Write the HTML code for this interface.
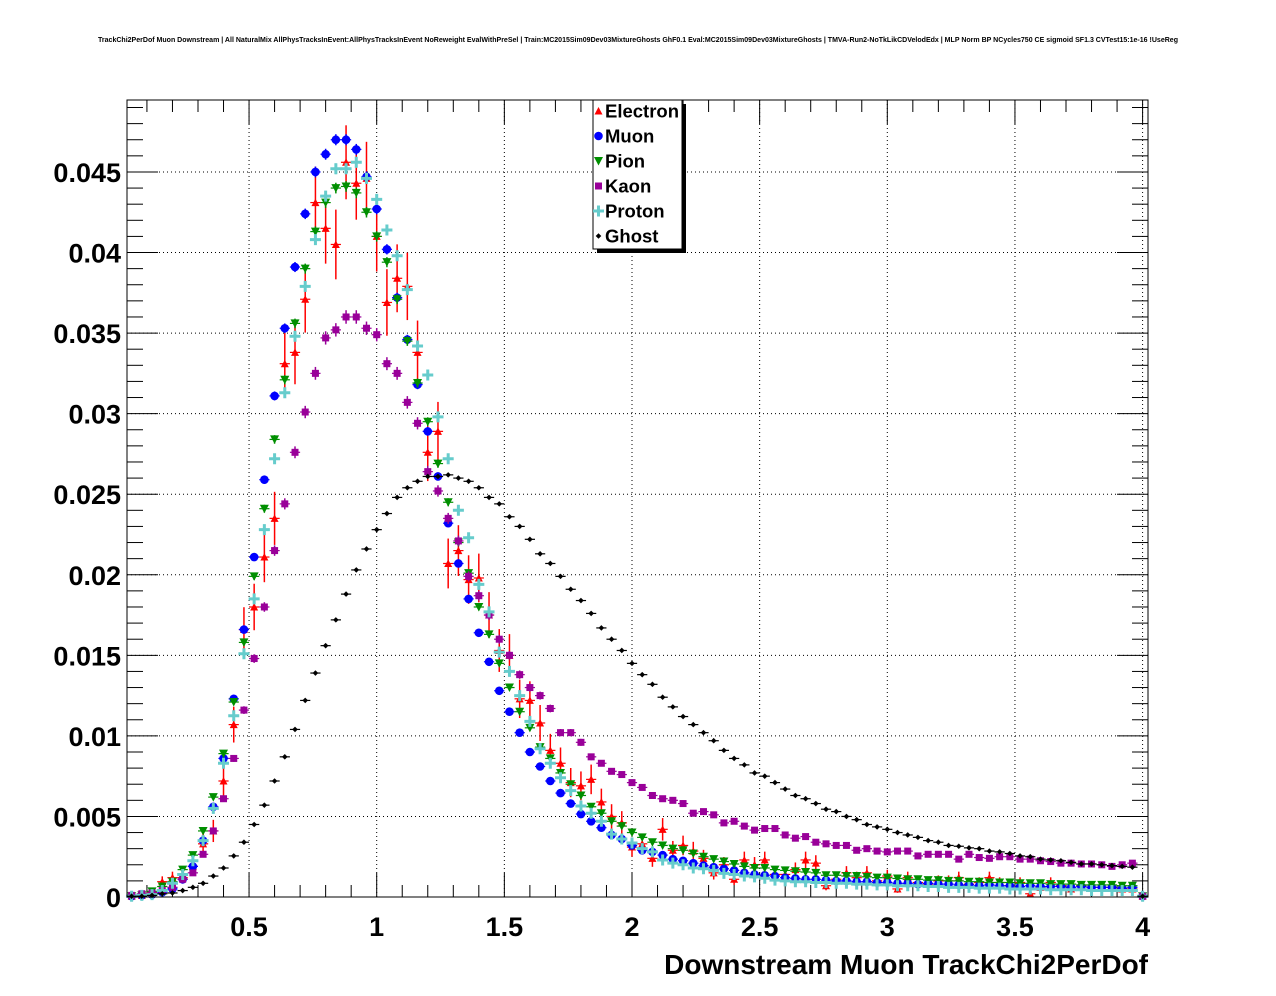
<!DOCTYPE html>
<html><head><meta charset="utf-8"><title>Downstream Muon TrackChi2PerDof</title>
<style>
html,body{margin:0;padding:0;background:#fff;}
svg{display:block;font-family:"Liberation Sans",Arial,sans-serif;}
</style></head>
<body>
<svg id="chart" width="1276" height="996" viewBox="0 0 1276 996" xmlns="http://www.w3.org/2000/svg">
<rect x="0" y="0" width="1276" height="996" fill="#fff"/>
<text x="638" y="42" text-anchor="middle" font-size="7" font-weight="bold" textLength="1080" lengthAdjust="spacingAndGlyphs">TrackChi2PerDof Muon Downstream | All NaturalMix AllPhysTracksInEvent:AllPhysTracksInEvent NoReweight EvalWithPreSel | Train:MC2015Sim09Dev03MixtureGhosts GhF0.1 Eval:MC2015Sim09Dev03MixtureGhosts | TMVA-Run2-NoTkLikCDVelodEdx | MLP Norm BP NCycles750 CE sigmoid SF1.3 CVTest15:1e-16 !UseReg</text>
<g id="grid"></g>
<g id="axes"></g>
<g id="series"></g>
<rect x="127" y="100" width="1021" height="797" fill="none" stroke="#000" stroke-width="1"/>
<text x="1148" y="974" text-anchor="end" font-size="28" font-weight="bold">Downstream Muon TrackChi2PerDof</text>
<g id="legend">
<rect x="597" y="104" width="89" height="149" fill="#000"/>
<rect x="593" y="100" width="89" height="149" fill="#fff" stroke="#000" stroke-width="1"/>
</g>
</svg>
<script>
// bin centres: 0.04 ... 4.00 (100 bins); values in units of 1e-3
const binCenters = [];
for (let i = 1; i <= 100; i++) binCenters.push(+(0.04 * i).toFixed(2));
const valueUnit = 1e-3;
const electronVals = [
0.05,0.1,0.3,0.95,1.2,1.2,1.9,3.3,4.1,7.2,
10.7,16.6,18.0,21.1,23.5,33.1,33.8,37.1,43.1,41.5,
40.5,45.6,44.3,44.6,41.0,36.9,38.4,37.9,33.8,27.6,
28.9,20.7,21.5,19.7,19.8,17.5,15.3,15.0,12.3,12.2,
10.8,9.1,8.3,7.1,6.9,7.3,5.9,5.0,4.6,3.1,
3.3,2.4,4.2,2.9,3.2,2.85,2.4,1.5,2.0,1.1,
2.3,2.0,2.3,1.4,1.4,1.7,2.3,2.1,0.7,1.1,
1.5,1.2,1.5,1.0,1.3,0.5,1.2,0.9,0.8,1.0,
1.0,1.2,0.8,0.9,1.2,0.9,0.7,0.9,0.2,0.6,
0.9,0.7,0.5,0.7,0.6,0.6,0.6,0.5,0.5,0.05];
const muonVals = [
0.05,0.1,0.15,0.3,0.5,1.1,1.9,3.5,5.6,8.6,
12.3,16.6,21.1,25.9,31.1,35.3,39.1,42.4,45.0,46.1,
47.0,47.0,46.4,44.7,42.7,40.2,37.2,34.6,31.8,28.9,
26.1,23.2,20.7,18.5,16.4,14.6,12.8,11.5,10.2,9.0,
8.1,7.2,6.45,5.8,5.15,4.7,4.3,3.85,3.6,3.2,
2.9,2.8,2.6,2.35,2.25,2.1,1.95,1.85,1.75,1.65,
1.5,1.4,1.35,1.3,1.2,1.15,1.1,1.1,1.05,1.0,
1.0,0.95,0.95,0.9,0.9,0.85,0.85,0.8,0.85,0.8,
0.8,0.75,0.75,0.7,0.75,0.7,0.7,0.65,0.7,0.65,
0.65,0.65,0.6,0.65,0.6,0.6,0.6,0.55,0.6,0.05];
const pionVals = [
0.05,0.1,0.35,0.65,0.95,1.7,2.6,4.1,6.2,8.9,
12.1,15.8,19.9,24.1,28.4,32.1,35.6,39.0,41.3,43.1,
44.0,44.1,43.7,42.5,41.0,39.4,37.1,34.5,31.9,29.5,
26.9,24.5,22.0,20.1,18.0,16.3,14.5,13.0,11.5,10.5,
9.3,8.6,7.7,7.0,6.3,5.6,5.2,4.7,4.4,4.0,
3.7,3.4,3.2,3.0,2.9,2.7,2.5,2.35,2.2,2.05,
1.9,1.8,1.8,1.7,1.65,1.6,1.55,1.5,1.35,1.35,
1.3,1.3,1.25,1.2,1.2,1.15,1.1,1.1,1.05,1.05,
1.0,1.0,0.95,0.95,0.9,0.9,0.9,0.85,0.85,0.85,
0.8,0.8,0.8,0.75,0.75,0.75,0.75,0.7,0.7,0.05];
const kaonVals = [
0.1,0.2,0.25,0.4,0.6,1.1,1.5,2.65,4.1,6.1,
8.6,11.6,14.8,18.0,21.5,24.4,27.6,30.1,32.5,34.7,
35.2,36.0,36.0,35.3,34.9,33.1,32.5,30.7,29.4,26.4,
25.2,23.5,22.1,19.9,18.7,17.5,16.0,15.0,13.8,13.0,
12.5,11.7,10.2,10.2,9.6,8.7,8.3,7.8,7.6,7.1,
6.8,6.3,6.1,6.0,5.8,5.2,5.3,5.1,4.6,4.7,
4.4,4.15,4.25,4.25,3.85,3.65,3.75,3.4,3.3,3.2,
3.2,2.9,3.0,2.85,2.8,2.85,2.85,2.55,2.65,2.65,
2.65,2.35,2.65,2.45,2.4,2.5,2.5,2.35,2.35,2.25,
2.2,2.1,2.1,2.05,2.05,2.0,1.9,2.0,2.1,0.05];
const protonVals = [
0.05,0.1,0.15,0.4,0.85,1.4,2.25,3.5,5.5,8.3,
11.25,15.1,18.5,22.8,27.2,31.3,34.8,37.9,40.8,43.5,
45.2,45.2,45.6,44.6,43.3,41.4,39.8,37.7,34.2,32.4,
29.8,27.2,24.0,22.3,19.4,17.7,15.2,14.0,12.5,10.9,
9.2,8.3,7.4,6.6,5.65,5.2,4.7,3.9,3.6,3.35,
3.0,2.8,2.3,2.1,2.0,1.8,1.75,1.65,1.47,1.4,
1.3,1.25,1.16,1.05,1.0,0.95,0.95,0.9,0.9,0.85,
0.85,0.8,0.8,0.75,0.75,0.7,0.7,0.7,0.65,0.65,
0.6,0.6,0.6,0.55,0.55,0.55,0.5,0.5,0.5,0.5,
0.45,0.45,0.45,0.45,0.4,0.4,0.4,0.4,0.4,0.05];
const ghostVals = [
0.05,0.05,0.1,0.2,0.25,0.4,0.6,0.85,1.3,1.8,
2.55,3.4,4.5,5.7,7.2,8.7,10.4,12.2,13.9,15.6,
17.2,18.8,20.3,21.6,22.8,23.8,24.8,25.4,25.8,26.1,
26.1,26.2,26.0,25.8,25.4,24.8,24.4,23.6,23.0,22.2,
21.3,20.7,19.9,19.1,18.4,17.6,16.7,16.0,15.3,14.5,
13.8,13.2,12.4,11.8,11.2,10.7,10.2,9.7,9.1,8.6,
8.2,7.7,7.5,7.1,6.7,6.3,6.1,5.8,5.45,5.3,
5.0,4.8,4.5,4.35,4.2,4.0,3.85,3.7,3.5,3.4,
3.2,3.15,3.05,3.0,2.85,2.8,2.7,2.55,2.5,2.35,
2.3,2.25,2.15,2.05,2.05,2.0,1.95,1.9,1.85,0.05];
const legendLabels = ["Electron","Muon","Pion","Kaon","Proton","Ghost"];
const xTickLabels = ["0.5","1","1.5","2","2.5","3","3.5","4"];
const xTickValues = [0.5,1,1.5,2,2.5,3,3.5,4];
const yTickLabels = ["0","0.005","0.01","0.015","0.02","0.025","0.03","0.035","0.04","0.045"];
const yTickValues = [0,0.005,0.01,0.015,0.02,0.025,0.03,0.035,0.04,0.045];

const NS = "http://www.w3.org/2000/svg";
const X0 = 127, X1 = 1148, Y0 = 897, Y1 = 100;
function xs(v) { return 376.7 + (v - 1) * 255.3; }
function ys(v) { return 897 - v * 16112; }
function mk(tag, attrs, parent) {
  const e = document.createElementNS(NS, tag);
  for (const k in attrs) e.setAttribute(k, attrs[k]);
  parent.appendChild(e);
  return e;
}
const grid = document.getElementById('grid');
const axes = document.getElementById('axes');
const series = document.getElementById('series');

xTickValues.forEach(function (v) {
  const l = mk('line', {x1: xs(v), x2: xs(v), y1: Y0, y2: Y1, stroke: '#000', 'stroke-width': 1, 'stroke-dasharray': '1,3'}, grid);
  
  
});
yTickValues.forEach(function (v) {
  if (v === 0) return;
  const l = mk('line', {x1: X0, x2: X1, y1: ys(v), y2: ys(v), stroke: '#000', 'stroke-width': 1, 'stroke-dasharray': '1,3'}, grid);
  
  
});

for (let i = 1; i <= 40; i++) {
  const v = i * 0.1;
  const major = (i % 5 === 0);
  const len = major ? 24 : 12;
  const x = xs(v);
  const t1 = mk('line', {x1: x, x2: x, y1: Y0, y2: Y0 - len, stroke: '#000', 'stroke-width': 1}, axes);
  
  
  const t2 = mk('line', {x1: x, x2: x, y1: Y1, y2: Y1 + len, stroke: '#000', 'stroke-width': 1}, axes);
  
  
}
xTickValues.forEach(function (v, i) {
  const t = mk('text', {x: xs(v), y: 936, 'text-anchor': 'middle', 'font-size': 27, 'font-weight': 'bold'}, axes);
  t.textContent = xTickLabels[i];
  
  
});
for (let i = 0; i <= 49; i++) {
  const v = i * 0.001;
  const major = (i % 5 === 0);
  const len = major ? 31 : 16;
  const y = ys(v);
  const t1 = mk('line', {x1: X0, x2: X0 + len, y1: y, y2: y, stroke: '#000', 'stroke-width': 1}, axes);
  
  
  const t2 = mk('line', {x1: X1, x2: X1 - len, y1: y, y2: y, stroke: '#000', 'stroke-width': 1}, axes);
  
  
}
yTickValues.forEach(function (v, i) {
  const t = mk('text', {x: 121, y: ys(v) + 10, 'text-anchor': 'end', 'font-size': 27, 'font-weight': 'bold'}, axes);
  t.textContent = yTickLabels[i];
  
  
});

function marker(shape, x, y, color, parent) {
  let e;
  if (shape === 'tri-up') {
    e = mk('polygon', {points: (x - 4) + ',' + (y + 3.5) + ' ' + (x + 4) + ',' + (y + 3.5) + ' ' + x + ',' + (y - 4), fill: color}, parent);
  } else if (shape === 'circle') {
    e = mk('circle', {cx: x, cy: y, r: 4.3, fill: color}, parent);
  } else if (shape === 'tri-down') {
    e = mk('polygon', {points: (x - 4.5) + ',' + (y - 4) + ' ' + (x + 4.5) + ',' + (y - 4) + ' ' + x + ',' + (y + 4.5), fill: color}, parent);
  } else if (shape === 'square') {
    e = mk('rect', {x: x - 3.5, y: y - 3.5, width: 7, height: 7, fill: color}, parent);
  } else if (shape === 'cross') {
    e = mk('path', {d: 'M' + (x - 5.5) + ' ' + (y - 1.5) + 'h4v-4h3v4h4v3h-4v4h-3v-4h-4z', fill: color}, parent);
  } else {
    e = mk('polygon', {points: (x - 2.8) + ',' + y + ' ' + x + ',' + (y - 2.8) + ' ' + (x + 2.8) + ',' + y + ' ' + x + ',' + (y + 2.8), fill: color}, parent);
  }
  return e;
}
const seriesDefs = [
  {name: 'electron', vals: electronVals, color: '#ff0000', shape: 'tri-up', errK: 0.34},
  {name: 'muon', vals: muonVals, color: '#0000ff', shape: 'circle', errK: 0.05},
  {name: 'pion', vals: pionVals, color: '#008f00', shape: 'tri-down', errK: 0.05},
  {name: 'kaon', vals: kaonVals, color: '#990099', shape: 'square', errK: 0.07},
  {name: 'proton', vals: protonVals, color: '#66cccc', shape: 'cross', errK: 0.05},
  {name: 'ghost', vals: ghostVals, color: '#000000', shape: 'diamond', errK: 0.02}
];
seriesDefs.forEach(function (s) {
  const g = mk('g', {}, series);
  
  
  s.vals.forEach(function (v, i) {
    const xc = binCenters[i];
    const x = xs(xc), y = ys(v * valueUnit);
    const halfW = xs(xc + 0.02) - x;
    const err = s.errK * Math.sqrt(v) * valueUnit * 16112;
    const pg = mk('g', {}, g);
    
    
    mk('line', {x1: x - halfW, x2: x + halfW, y1: y, y2: y, stroke: s.color, 'stroke-width': 1.2}, pg);
    if (err > 0.5) mk('line', {x1: x, x2: x, y1: y - err, y2: y + err, stroke: s.color, 'stroke-width': 1.5}, pg);
    marker(s.shape, x, y, s.color, pg);
  });
});

const legend = document.getElementById('legend');
seriesDefs.forEach(function (s, i) {
  const y = 111 + i * 25;
  const g = mk('g', {}, legend);
  
  
  marker(s.shape, 598.5, y, s.color, g);
  const t = mk('text', {x: 605, y: y + 6.5, 'font-size': 18.5, 'font-weight': 'bold'}, g);
  t.textContent = legendLabels[i];
});
</script>
</body></html>
